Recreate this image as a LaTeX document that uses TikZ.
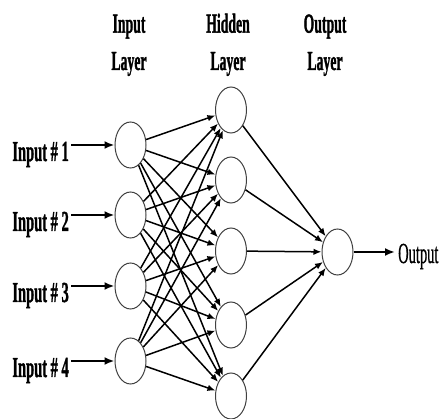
\documentclass[tikz,border=0pt]{standalone}
\usepackage{fontspec}
\setmainfont{Liberation Serif}[BoldFeatures={FakeBold=1.6}]
\newfontfamily\outfont{Liberation Serif}[FakeBold=1]
\usetikzlibrary{shapes.geometric,arrows.meta}
\newcommand\sq[1]{\scalebox{0.5}[1]{#1}}
\begin{document}
\begin{tikzpicture}[x=1pt,y=-1pt,
  neuron/.style={ellipse,draw=black!75,line width=1pt,minimum width=31pt,minimum height=46pt,inner sep=0pt},
  hdr/.style={font=\fontsize{27.5}{30}\selectfont\bfseries,inner sep=0pt,anchor=base},
  lbl/.style={font=\fontsize{29}{32}\selectfont\bfseries,inner sep=0pt,anchor=base east},
  outlbl/.style={font=\fontsize{29}{32}\selectfont\outfont,inner sep=0pt,anchor=base west},
  conn/.style={line width=1.5pt,-{Latex[length=8pt,width=6.5pt]}},
  inarr/.style={line width=2.2pt,-{Latex[length=10pt,width=8pt]}}]
\useasboundingbox (0,0) rectangle (445,419);
% headers
\node[hdr] (hin)   at (129,32.7) {\sq{Input}};
\node[hdr] (hinb)  at (129,70)   {\sq{Layer}};
\node[hdr] (hhid)  at (228,32.7) {\sq{Hidden}};
\node[hdr] (hhidb) at (228,70)   {\sq{Layer}};
\node[hdr] (hout)  at (325,32.7) {\sq{Output}};
\node[hdr] (houtb) at (325,70)   {\sq{Layer}};
% input layer
\foreach \i/\y in {1/145,2/215,3/286,4/361}{
  \node[neuron] (i\i) at (130.5,\y) {};
  \node[lbl] (l\i) at (69,\y+16) {\sq{Input \# \i}};
  \draw[inarr] ([xshift=2pt]l\i.east |- i\i.center) -- (i\i);
}
% hidden layer
\foreach \j/\y in {1/110,2/180,3/251,4/325,5/396}{
  \node[neuron] (h\j) at (231,\y) {};
}
% output
\node[neuron] (o) at (337.5,252) {};
\node[outlbl] (out) at (398,263) {\sq{Output}};
\draw[inarr] (o) -- ([xshift=-3pt]o -| out.west);
% connections
\foreach \i in {1,...,4}{
  \foreach \j in {1,...,5}{
    \draw[conn] (i\i) -- (h\j);
  }
}
\foreach \j in {1,...,5}{
  \draw[conn] (h\j) -- (o);
}
\end{tikzpicture}
\end{document}
